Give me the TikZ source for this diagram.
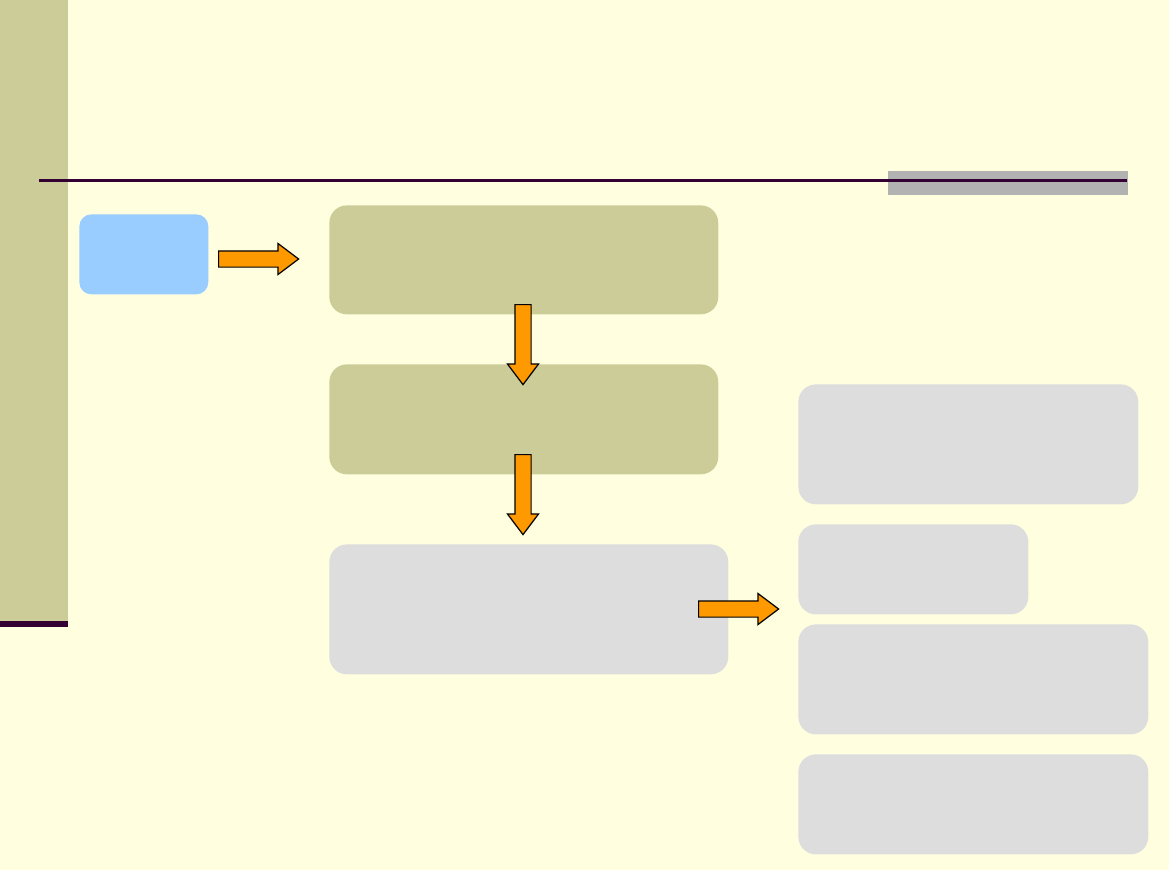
\documentclass[tikz,border=0pt]{standalone}
\usetikzlibrary{shapes.arrows,positioning}
\definecolor{paper}{RGB}{255,255,224}
\definecolor{khaki}{RGB}{204,204,153}
\definecolor{plum}{RGB}{51,0,51}
\definecolor{sky}{RGB}{153,204,255}
\definecolor{pale}{RGB}{221,221,221}
\definecolor{bar}{RGB}{178,178,178}
\definecolor{orng}{RGB}{255,153,0}
\tikzset{
  panel/.style={
    shape = rectangle,
    anchor = north west,
    inner sep = 0pt,
    rounded corners = 0.35cm,
  },
  stage/.style={panel, fill=khaki},
  result/.style={panel, fill=pale},
  start/.style={panel, fill=sky, rounded corners=0.24cm},
  flow/.style={
    shape = single arrow,
    anchor = tail,
    draw = black,
    fill = orng,
    line width = 0.7pt,
    inner xsep = 0pt,
    inner ysep = 0.15cm,
    minimum height = 1.6cm,
    minimum width = 0.6cm,
    single arrow head extend = 0.15cm,
    single arrow tip angle = 74,
  },
}
\begin{document}
\begin{tikzpicture}[x=0.02cm,y=-0.02cm]
  \useasboundingbox[fill=paper] (0,0) rectangle (1169,870);
  % side strip and title rule
  \fill[khaki] (0,0) rectangle (68,621);
  \fill[plum] (0,621) rectangle (68,627);
  \fill[bar] (888,171) rectangle (1128,195);
  \coordinate (rulel) at (39,180);
  \coordinate (ruler) at (1127,180);
  \draw[plum, line width=1.7pt] (rulel) -- (ruler);
  % boxes
  \node[start, minimum width=2.58cm, minimum height=1.6cm] (src) at (79,214) {};
  \node[stage, minimum width=7.78cm, minimum height=2.18cm] (s1) at (329,205) {};
  \node[stage, minimum width=7.78cm, minimum height=2.2cm] (s2) at (329,364) {};
  \node[result, minimum width=7.98cm, minimum height=2.6cm] (s3) at (329,544) {};
  \node[result, minimum width=6.8cm, minimum height=2.4cm] (r1) at (798,384) {};
  \node[result, minimum width=4.6cm, minimum height=1.8cm] (r2) at (798,524) {};
  \node[result, minimum width=7.0cm, minimum height=2.2cm] (r3) at (798,624) {};
  \node[result, minimum width=7.0cm, minimum height=2.0cm] (r4) at (798,754) {};
  % arrows
  \node[flow] (a1) at (218,259) {};
  \node[flow, rotate=-90] (a2) at (523,304) {};
  \node[flow, rotate=-90] (a3) at (523,454) {};
  \node[flow] (a4) at (698,609) {};
\end{tikzpicture}
\end{document}
